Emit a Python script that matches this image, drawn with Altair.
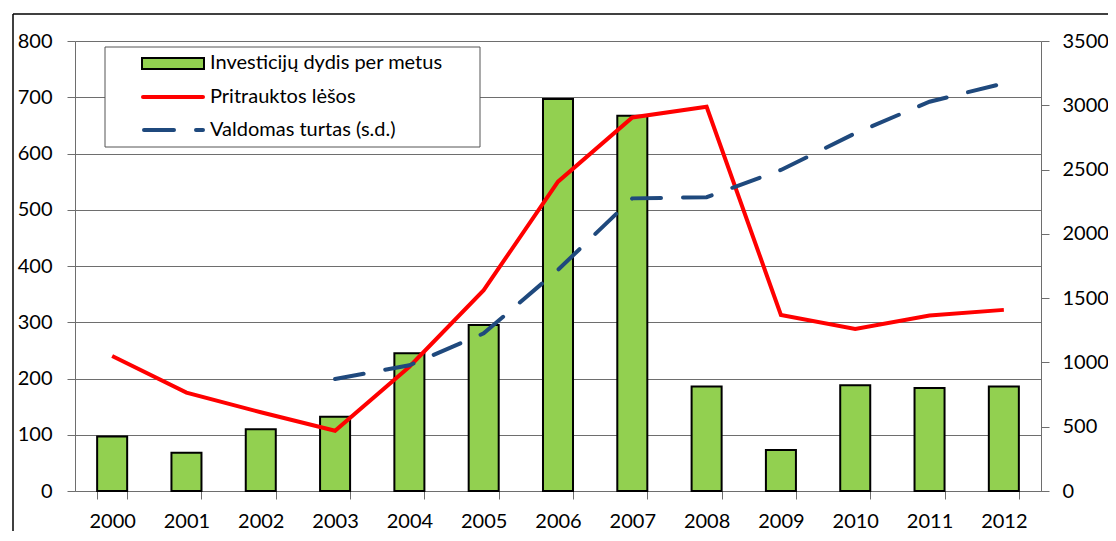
import altair as alt
import pandas as pd

years = [str(y) for y in range(2000, 2013)]
investicijos = [97, 68, 110, 132, 245, 295, 697, 667, 186, 73, 188, 183, 186]
pritrauktos = [240, 175, 140, 107, 221, 357, 550, 664, 683, 313, 288, 312, 322]
valdomas = [None, None, None, 871, 978, 1226, 1720, 2276, 2285, 2497, 2782, 3028, 3171]
series_names = ["Investicijų dydis per metus", "Pritrauktos lėšos", "Valdomas turtas (s.d.)"]
left_ticks = list(range(0, 801, 100))
right_ticks = list(range(0, 3501, 500))

df = pd.DataFrame({"year": years, "inv": investicijos, "prit": pritrauktos, "vald": valdomas})

FONT = "Lato"
GRID = "#6e6e6e"

x_enc = alt.X(
    "year:N",
    sort=years,
    scale=alt.Scale(paddingInner=0.596, paddingOuter=0.298),
    axis=alt.Axis(
        title=None, labelAngle=0, tickBand="extent", tickSize=8, labelPadding=12,
        labelFont=FONT, labelFontSize=20, labelColor="black",
        domainColor=GRID, tickColor=GRID, grid=False,
    ),
)

left_axis = alt.Axis(
    title=None, orient="left", values=left_ticks, format="d", grid=True, gridColor=GRID, gridWidth=1,
    domainColor=GRID, tickColor=GRID, tickSize=8, labelPadding=15,
    labelFont=FONT, labelFontSize=20, labelColor="black",
)
right_axis = alt.Axis(
    title=None, orient="right", values=right_ticks, format="d", grid=False,
    domainColor=GRID, tickColor=GRID, tickSize=8, labelPadding=13,
    labelFont=FONT, labelFontSize=20, labelColor="black",
)

base = alt.Chart(df)
left_scale = alt.Scale(domain=[0, 800], nice=False)

bars = base.mark_bar(color="#92D050", stroke="black", strokeWidth=2).encode(
    x=x_enc,
    y=alt.Y("inv:Q", scale=left_scale, axis=left_axis),
)

red = base.mark_line(color="#FF0000", strokeWidth=4).encode(
    x=alt.X("year:N", sort=years),
    y=alt.Y("prit:Q", scale=left_scale, axis=left_axis),
)

left_layer = alt.layer(bars, red)

blue = base.transform_filter("isValid(datum.vald)").mark_line(
    color="#1F497D", strokeWidth=4, strokeDash=[29, 22], strokeCap="round"
).encode(
    x=alt.X("year:N", sort=years),
    y=alt.Y("vald:Q", scale=alt.Scale(domain=[0, 3500], nice=False), axis=right_axis),
)

one = alt.Chart(pd.DataFrame({"a": [0]}))

frame_top = one.mark_rule(color="black", strokeWidth=1.5).encode(
    x=alt.value(-62), x2=alt.value(1040), y=alt.value(-27)
)
frame_left = one.mark_rule(color="black", strokeWidth=1.5).encode(
    x=alt.value(-62), y=alt.value(-27), y2=alt.value(495)
)

legend_box = one.mark_rect(fill="white", stroke="#555555", strokeWidth=1).encode(
    x=alt.value(30), x2=alt.value(405), y=alt.value(6), y2=alt.value(106)
)
sw_bar = one.mark_rect(fill="#92D050", stroke="black", strokeWidth=2).encode(
    x=alt.value(67), x2=alt.value(129), y=alt.value(17), y2=alt.value(28)
)
sw_red = one.mark_rule(color="#FF0000", strokeWidth=4, strokeCap="round").encode(
    x=alt.value(68), x2=alt.value(128), y=alt.value(56)
)
sw_blue = one.mark_rule(color="#1F497D", strokeWidth=4, strokeCap="round", strokeDash=[30, 22]).encode(
    x=alt.value(69), x2=alt.value(128), y=alt.value(89)
)

def label(i, yv):
    return one.mark_text(
        align="left", baseline="middle", font=FONT, fontSize=20, color="black"
    ).encode(x=alt.value(135), y=alt.value(yv), text=alt.value(series_names[i]))

chart = alt.layer(
    frame_top, frame_left, left_layer, blue,
    legend_box, sw_bar, sw_red, sw_blue,
    label(0, 22), label(1, 56), label(2, 89),
).resolve_scale(y="independent").properties(
    width=966, height=450,
    autosize=alt.AutoSizeParams(type="none"),
    padding={"left": 67, "top": 33, "right": 67, "bottom": 40},
).configure_view(stroke=None).configure(background="white")

chart.save("out.html", embed_options={"renderer": "svg", "actions": False})
